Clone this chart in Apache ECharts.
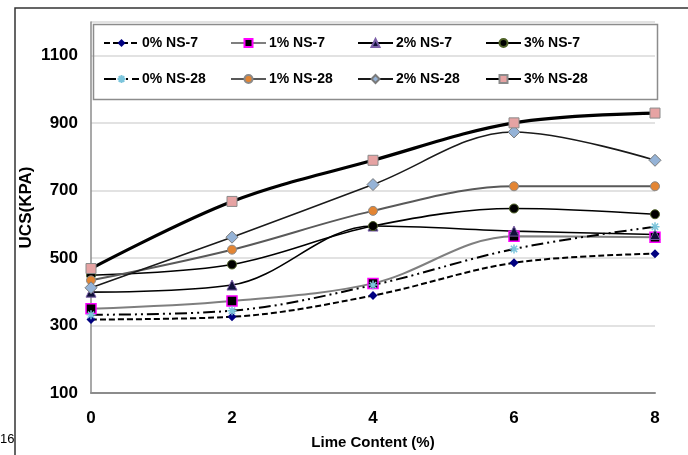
<!DOCTYPE html>
<html>
<head>
<meta charset="utf-8">
<script src="https://cdn.jsdelivr.net/npm/echarts@6/dist/echarts.min.js"></script>
<style>
  html, body { margin: 0; padding: 0; background: #fff; }
  #main { width: 688px; height: 455px; }
</style>
</head>
<body>
<div id="main"></div>
<script>
// lime content (%) on x
var lime = [0, 2, 4, 6, 8];
var yTicks = [100, 300, 500, 700, 900, 1100];

// UCS values (kPa)
var ns7_0 = [318, 326, 389, 486, 513];
var ns7_1 = [350, 373, 425, 565, 562];
var ns7_2 = [399, 420, 595, 580, 570];
var ns7_3 = [449, 481, 595, 647, 630];
var ns28_0 = [332, 344, 420, 527, 593];
var ns28_1 = [434, 525, 640, 713, 713];
var ns28_2 = [412, 562, 718, 874, 790];
var ns28_3 = [469, 668, 790, 901, 930];

var names = ['0% NS-7', '1% NS-7', '2% NS-7', '3% NS-7',
             '0% NS-28', '1% NS-28', '2% NS-28', '3% NS-28'];

var asterisk = 'path://M5,0L5,10M0,5L10,5M1.5,1.5L8.5,8.5M8.5,1.5L1.5,8.5';
var font = 'Liberation Sans';

function pairs(vals) {
  var out = [];
  for (var i = 0; i < lime.length; i++) out.push([lime[i], vals[i]]);
  return out;
}

function mkSeries(name, vals, line, sym) {
  return {
    name: name,
    type: 'line',
    smooth: 0.35,
    data: pairs(vals),
    symbol: sym.symbol,
    symbolSize: sym.size,
    lineStyle: line,
    itemStyle: sym.style,
    emphasis: { disabled: true }
  };
}

var series = [
  mkSeries(names[0], ns7_0, { color: '#000', width: 2, type: [6, 3] },
    { symbol: 'diamond', size: 9, style: { color: '#000080' } }),
  mkSeries(names[1], ns7_1, { color: '#7f7f7f', width: 2 },
    { symbol: 'rect', size: 10, style: { color: '#000', borderColor: '#ff00ff', borderWidth: 1.5 } }),
  mkSeries(names[2], ns7_2, { color: '#000', width: 1.6 },
    { symbol: 'triangle', size: 10, style: { color: '#10103a', borderColor: '#7b5ea7', borderWidth: 1 } }),
  mkSeries(names[3], ns7_3, { color: '#000', width: 1.6 },
    { symbol: 'circle', size: 9, style: { color: '#000', borderColor: '#4f6228', borderWidth: 1 } }),
  mkSeries(names[4], ns28_0, { color: '#000', width: 2, type: [12, 4, 2, 4, 2, 4] },
    { symbol: asterisk, size: 9, style: { color: '#7cc5dc', borderColor: '#7cc5dc', borderWidth: 1.5 } }),
  mkSeries(names[5], ns28_1, { color: '#595959', width: 2 },
    { symbol: 'circle', size: 9, style: { color: '#e38533', borderColor: '#8a8a8a', borderWidth: 1 } }),
  mkSeries(names[6], ns28_2, { color: '#1a1a1a', width: 1.6 },
    { symbol: 'diamond', size: 12, style: { color: '#95b3d7', borderColor: '#7a7a7a', borderWidth: 1 } }),
  mkSeries(names[7], ns28_3, { color: '#000', width: 3.2 },
    { symbol: 'rect', size: 10, style: { color: '#e6a3a3', borderColor: '#8a8a8a', borderWidth: 1 } })
];

// one legend per column so the columns line up like the original
var colLeft = [103, 230, 357, 485];
var legends = [];
for (var c = 0; c < 4; c++) {
  legends.push({
    orient: 'vertical',
    left: colLeft[c],
    top: 36,
    padding: 0,
    itemGap: 22,
    itemWidth: 35,
    itemHeight: 10,
    selectedMode: false,
    data: [names[c], names[c + 4]],
    textStyle: { fontFamily: font, fontWeight: 'bold', fontSize: 14, color: '#000', padding: [0, 0, 0, -2] }
  });
}

var myChart = echarts.init(document.getElementById('main'), null, { renderer: 'canvas' });

var option = {
  animation: false,
  backgroundColor: '#fff',
  legend: legends,
  grid: { left: 91, right: 33, top: 22, bottom: 59, containLabel: false },
  xAxis: {
    type: 'value',
    min: 0,
    max: 8,
    interval: 2,
    name: 'Lime Content (%)',
    nameLocation: 'middle',
    nameGap: 42,
    nameTextStyle: { fontFamily: font, fontWeight: 'bold', fontSize: 15, color: '#000' },
    axisLine: { lineStyle: { color: '#8c8c8c', width: 2 } },
    axisTick: { show: false },
    splitLine: { show: false },
    axisLabel: { margin: 17, fontFamily: font, fontWeight: 'bold', fontSize: 17, color: '#000' }
  },
  yAxis: {
    type: 'value',
    min: yTicks[0],
    max: 1200,
    interval: 200,
    name: 'UCS(KPA)',
    nameLocation: 'middle',
    nameGap: 56,
    nameMoveOverlap: false,
    nameTextStyle: { fontFamily: font, fontWeight: 'bold', fontSize: 17, color: '#000' },
    axisLine: { show: true, lineStyle: { color: '#8c8c8c', width: 1.5 } },
    axisTick: { show: false },
    splitLine: { lineStyle: { color: '#d9d9d9', width: 1.5 } },
    axisLabel: {
      margin: 13, showMaxLabel: false, fontFamily: font, fontWeight: 'bold', fontSize: 17, color: '#000',
      formatter: function (v) { return String(v); }
    }
  },
  graphic: [
    // legend box
    { type: 'rect', left: 91, top: 22, shape: { width: 564, height: 75 },
      style: { fill: 'none', stroke: '#8c8c8c', lineWidth: 1.5 }, z: 10 },
    // outer frame (top and left edges)
    { type: 'polyline', shape: { points: [[15, 455], [15, 8], [688, 8]] },
      style: { fill: 'none', stroke: '#333', lineWidth: 1.5 }, z: 10 },
    { type: 'text', left: 0, top: 433,
      style: { text: '16', fontFamily: font, fontSize: 13, fill: '#000' } }
  ],
  series: series
};

myChart.setOption(option);
</script>
</body>
</html>
